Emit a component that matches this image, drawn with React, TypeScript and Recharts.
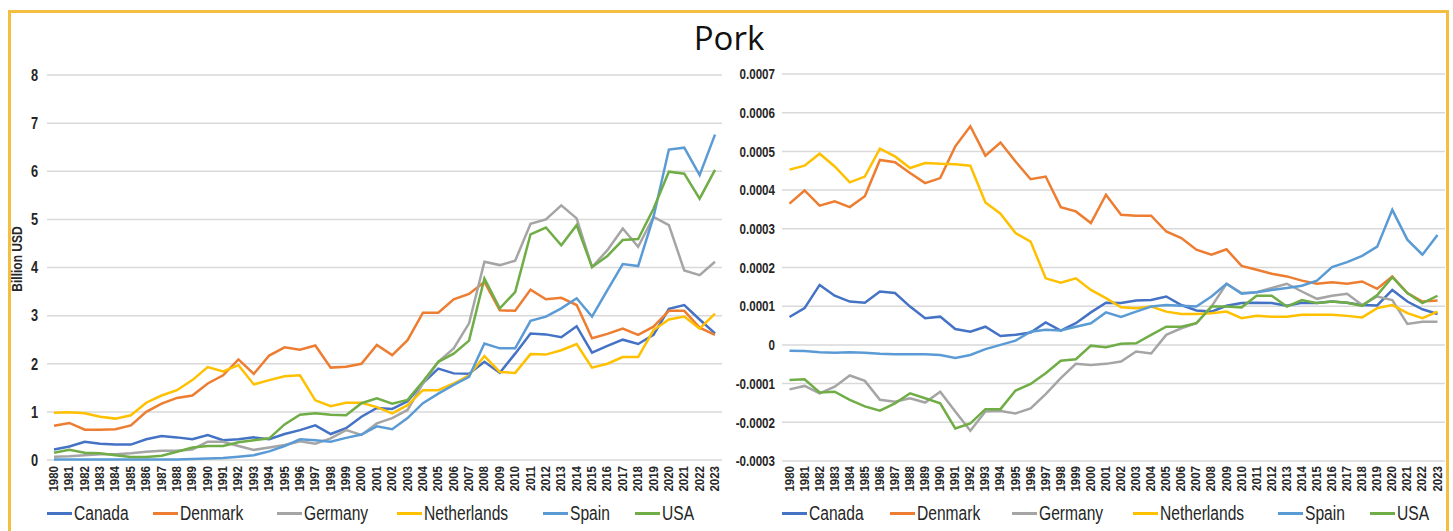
import React from 'react';
import { LineChart, Line, XAxis, YAxis, CartesianGrid } from 'recharts';

// Category labels (years)
const years = [
  '1980', '1981', '1982', '1983', '1984', '1985', '1986', '1987', '1988', '1989',
  '1990', '1991', '1992', '1993', '1994', '1995', '1996', '1997', '1998', '1999',
  '2000', '2001', '2002', '2003', '2004', '2005', '2006', '2007', '2008', '2009',
  '2010', '2011', '2012', '2013', '2014', '2015', '2016', '2017', '2018', '2019',
  '2020', '2021', '2022', '2023',
];

const countries = ['Canada', 'Denmark', 'Germany', 'Netherlands', 'Spain', 'USA'];
const countryColors = ['#4472C4', '#ED7D31', '#A5A5A5', '#FFC000', '#5B9BD5', '#70AD47'];

// Pork exports, billion USD
const canadaUsd = [
  0.22, 0.28, 0.38, 0.34, 0.32, 0.32, 0.43, 0.50, 0.47, 0.43,
  0.52, 0.41, 0.43, 0.47, 0.43, 0.54, 0.62, 0.72, 0.54, 0.66,
  0.90, 1.08, 1.06, 1.22, 1.60, 1.90, 1.80, 1.79, 2.04, 1.81,
  2.21, 2.63, 2.61, 2.55, 2.78, 2.23, 2.37, 2.50, 2.41, 2.60,
  3.14, 3.22, 2.92, 2.63,
];
const denmarkUsd = [
  0.71, 0.77, 0.63, 0.63, 0.64, 0.72, 1.00, 1.17, 1.29, 1.34,
  1.59, 1.76, 2.09, 1.79, 2.17, 2.34, 2.29, 2.38, 1.92, 1.94,
  2.00, 2.39, 2.18, 2.49, 3.06, 3.06, 3.34, 3.45, 3.70, 3.11,
  3.10, 3.54, 3.34, 3.37, 3.22, 2.53, 2.62, 2.73, 2.60, 2.77,
  3.10, 3.10, 2.75, 2.60,
];
const germanyUsd = [
  0.07, 0.08, 0.10, 0.12, 0.12, 0.14, 0.17, 0.19, 0.19, 0.22,
  0.38, 0.38, 0.29, 0.21, 0.26, 0.31, 0.39, 0.34, 0.45, 0.62,
  0.52, 0.76, 0.87, 1.04, 1.59, 2.04, 2.32, 2.84, 4.12, 4.05,
  4.14, 4.91, 5.00, 5.29, 5.02, 4.01, 4.36, 4.81, 4.43, 5.05,
  4.88, 3.94, 3.84, 4.12,
];
const netherlandsUsd = [
  0.98, 0.99, 0.97, 0.90, 0.86, 0.93, 1.19, 1.34, 1.45, 1.66,
  1.93, 1.84, 1.97, 1.57, 1.66, 1.74, 1.76, 1.24, 1.12, 1.19,
  1.19, 1.10, 0.97, 1.14, 1.45, 1.45, 1.59, 1.76, 2.16, 1.83,
  1.81, 2.20, 2.19, 2.28, 2.41, 1.92, 2.00, 2.14, 2.14, 2.70,
  2.92, 2.98, 2.73, 3.04,
];
const spainUsd = [
  0.01, 0.01, 0.01, 0.01, 0.01, 0.01, 0.01, 0.01, 0.01, 0.02,
  0.03, 0.04, 0.07, 0.10, 0.18, 0.29, 0.43, 0.41, 0.38, 0.46,
  0.53, 0.70, 0.64, 0.87, 1.18, 1.38, 1.56, 1.73, 2.42, 2.32,
  2.32, 2.89, 2.98, 3.15, 3.36, 2.98, 3.53, 4.07, 4.03, 5.05,
  6.45, 6.49, 5.92, 6.76,
];
const usaUsd = [
  0.15, 0.21, 0.15, 0.14, 0.10, 0.06, 0.06, 0.09, 0.17, 0.26,
  0.29, 0.29, 0.37, 0.41, 0.45, 0.74, 0.94, 0.97, 0.94, 0.93,
  1.18, 1.28, 1.17, 1.25, 1.63, 2.04, 2.21, 2.48, 3.77, 3.15,
  3.49, 4.69, 4.83, 4.46, 4.88, 4.01, 4.24, 4.57, 4.59, 5.22,
  5.99, 5.95, 5.43, 6.03,
];

// Second panel values
const canadaShare = [
  0.000072, 0.000095, 0.000155, 0.000127, 0.000112, 0.000109, 0.000138, 0.000134, 0.000099, 0.000069,
  0.000073, 0.000041, 0.000034, 0.000047, 0.000023, 0.000026, 0.000032, 0.000058, 0.000037, 0.000056,
  0.000084, 0.000109, 0.000108, 0.000115, 0.000116, 0.000125, 0.000103, 0.000089, 0.000086, 0.000101,
  0.000108, 0.000109, 0.000108, 0.000101, 0.000109, 0.000108, 0.000112, 0.000109, 0.000103, 0.000102,
  0.000142, 0.000112, 0.000092, 0.000080,
];
const denmarkShare = [
  0.000365, 0.000399, 0.000360, 0.000371, 0.000356, 0.000384, 0.000478, 0.000472, 0.000444, 0.000418,
  0.000431, 0.000513, 0.000565, 0.000489, 0.000523, 0.000474, 0.000428, 0.000435, 0.000356, 0.000345,
  0.000315, 0.000388, 0.000336, 0.000334, 0.000334, 0.000293, 0.000276, 0.000246, 0.000233, 0.000247,
  0.000204, 0.000194, 0.000184, 0.000177, 0.000166, 0.000158, 0.000162, 0.000158, 0.000164, 0.000145,
  0.000177, 0.000134, 0.000112, 0.000115,
];
const germanyShare = [
  -0.000115, -0.000106, -0.000125, -0.000108, -0.000079, -0.000093, -0.000142, -0.000147, -0.000138, -0.000149,
  -0.000121, -0.000172, -0.000222, -0.000172, -0.000171, -0.000177, -0.000164, -0.000127, -0.000086, -0.000049,
  -0.000052, -0.000049, -0.000043, -0.000017, -0.000022, 0.000026, 0.000043, 0.000056, 0.000099, 0.000158,
  0.000134, 0.000136, 0.000147, 0.000158, 0.000138, 0.000119, 0.000127, 0.000132, 0.000103, 0.000125,
  0.000116, 0.000054, 0.000060, 0.000060,
];
const netherlandsShare = [
  0.000453, 0.000463, 0.000494, 0.000461, 0.000420, 0.000435, 0.000507, 0.000487, 0.000457, 0.000470,
  0.000468, 0.000467, 0.000463, 0.000368, 0.000339, 0.000289, 0.000267, 0.000172, 0.000161, 0.000172,
  0.000142, 0.000121, 0.000097, 0.000095, 0.000099, 0.000086, 0.000080, 0.000080, 0.000082, 0.000086,
  0.000069, 0.000075, 0.000073, 0.000073, 0.000078, 0.000078, 0.000078, 0.000075, 0.000071, 0.000095,
  0.000103, 0.000082, 0.000069, 0.000086,
];
const spainShare = [
  -0.000015, -0.000016, -0.000019, -0.000020, -0.000019, -0.000020, -0.000023, -0.000024, -0.000024, -0.000024,
  -0.000026, -0.000034, -0.000026, -0.000011, 0.000000, 0.000011, 0.000034, 0.000039, 0.000037, 0.000047,
  0.000056, 0.000084, 0.000072, 0.000086, 0.000099, 0.000103, 0.000101, 0.000099, 0.000125, 0.000158,
  0.000132, 0.000136, 0.000142, 0.000147, 0.000153, 0.000166, 0.000201, 0.000214, 0.000230, 0.000254,
  0.000349, 0.000272, 0.000233, 0.000284,
];
const usaShare = [
  -0.000091, -0.000089, -0.000123, -0.000121, -0.000142, -0.000159, -0.000170, -0.000151, -0.000125, -0.000138,
  -0.000151, -0.000216, -0.000203, -0.000166, -0.000166, -0.000118, -0.000101, -0.000073, -0.000041, -0.000037,
  -0.000002, -0.000006, 0.000003, 0.000004, 0.000026, 0.000047, 0.000047, 0.000056, 0.000099, 0.000099,
  0.000097, 0.000127, 0.000127, 0.000099, 0.000116, 0.000108, 0.000112, 0.000109, 0.000101, 0.000129,
  0.000175, 0.000134, 0.000108, 0.000127,
];

const usdTicks = [0, 1, 2, 3, 4, 5, 6, 7, 8];
const shareTicks = [-0.0003, -0.0002, -0.0001, 0, 0.0001, 0.0002, 0.0003, 0.0004, 0.0005, 0.0006, 0.0007];

const usdRows = years.map((year, i) => {
  const row: Record<string, string | number> = { year };
  [canadaUsd, denmarkUsd, germanyUsd, netherlandsUsd, spainUsd, usaUsd].forEach((s, k) => {
    row[countries[k]] = s[i];
  });
  return row;
});

const shareRows = years.map((year, i) => {
  const row: Record<string, string | number> = { year };
  [canadaShare, denmarkShare, germanyShare, netherlandsShare, spainShare, usaShare].forEach((s, k) => {
    row[countries[k]] = s[i];
  });
  return row;
});

const SANS = '"Liberation Sans", Arial, sans-serif';
const TEXT = '#262626';
// horizontal squeeze that gives the condensed look of the labels
const SQUEEZE = 0.8;

const YearTick = (props: any) => {
  const { x, y, payload } = props;
  return (
    <text
      transform={`translate(${x + 4},${y}) rotate(-90) scale(0.92,1)`}
      textAnchor="end"
      fontFamily={SANS}
      fontWeight="bold"
      fontSize={12.5}
      fill={TEXT}
    >
      {payload.value}
    </text>
  );
};

const makeValueTick = (fontSize: number, format: (v: number) => string) => (props: any) => {
  const { x, y, payload } = props;
  return (
    <text
      transform={`translate(${x},${y}) scale(${SQUEEZE},1)`}
      textAnchor="end"
      dy="0.36em"
      fontFamily={SANS}
      fontWeight="bold"
      fontSize={fontSize}
      fill={TEXT}
    >
      {format(payload.value)}
    </text>
  );
};

const formatShare = (v: number) => (v === 0 ? '0' : v.toFixed(4));
const UsdTick = makeValueTick(16, (v) => String(v));
const ShareTick = makeValueTick(14.5, formatShare);

const legendLeftX = [47, 153, 277, 397, 543, 635];
const legendRightX = [782, 890, 1012, 1133, 1278, 1370];

function Legend({ xs }: { xs: number[] }) {
  return (
    <>
      {countries.map((name, k) => (
        <div
          key={name}
          style={{
            position: 'absolute',
            left: xs[k],
            top: 502,
            height: 22,
            display: 'flex',
            alignItems: 'center',
            whiteSpace: 'nowrap',
          }}
        >
          <span style={{ display: 'inline-block', width: 25, height: 3, background: countryColors[k], marginRight: 2 }} />
          <span
            style={{
              display: 'inline-block',
              fontFamily: SANS,
              fontSize: 19.5,
              color: TEXT,
              transform: `scaleX(${SQUEEZE})`,
              transformOrigin: 'left center',
            }}
          >
            {name}
          </span>
        </div>
      ))}
    </>
  );
}

export default function App() {
  return (
    <div
      style={{
        position: 'absolute',
        left: 0,
        top: 0,
        width: 1453,
        height: 531,
        overflow: 'hidden',
        background: '#ffffff',
      }}
    >
      <div
        style={{
          position: 'absolute',
          left: 8,
          top: 10,
          width: 1441,
          height: 560,
          border: '3px solid #F4BE41',
          boxSizing: 'border-box',
        }}
      />
      <div
        style={{
          position: 'absolute',
          left: 629,
          top: 21,
          width: 200,
          textAlign: 'center',
          fontFamily: '"Open Sans", "Noto Sans", sans-serif',
          fontSize: 33,
          lineHeight: 1,
          color: '#111111',
        }}
      >
        Pork
      </div>
      <div
        style={{
          position: 'absolute',
          left: 16,
          top: 259,
          transform: `translate(-50%, -50%) rotate(-90deg) scaleX(${SQUEEZE})`,
          fontFamily: SANS,
          fontWeight: 'bold',
          fontSize: 15,
          color: TEXT,
          whiteSpace: 'nowrap',
        }}
      >
        Billion USD
      </div>

      <div style={{ position: 'absolute', left: 0, top: 0 }}>
        <LineChart width={730} height={531} data={usdRows} margin={{ top: 75, right: 8, left: 0, bottom: 31 }}>
          <CartesianGrid vertical={false} stroke="#D9D9D9" strokeWidth={1.5} />
          <XAxis
            dataKey="year"
            interval={0}
            height={40}
            axisLine={false}
            tickLine={false}
            tickSize={0}
            tickMargin={6}
            padding={{ left: 7, right: 7 }}
            tick={<YearTick />}
          />
          <YAxis
            width={47}
            domain={[0, 8]}
            ticks={usdTicks}
            axisLine={false}
            tickLine={false}
            tickSize={0}
            tickMargin={9}
            tick={<UsdTick />}
          />
          {countries.map((name, k) => (
            <Line
              key={name}
              type="linear"
              dataKey={name}
              stroke={countryColors[k]}
              strokeWidth={2.5}
              dot={false}
              isAnimationActive={false}
            />
          ))}
        </LineChart>
      </div>

      <div style={{ position: 'absolute', left: 730, top: 0 }}>
        <LineChart width={723} height={531} data={shareRows} margin={{ top: 74, right: 8, left: 0, bottom: 30 }}>
          <CartesianGrid vertical={false} stroke="#D9D9D9" strokeWidth={1.5} />
          <XAxis
            dataKey="year"
            interval={0}
            height={40}
            axisLine={false}
            tickLine={false}
            tickSize={0}
            tickMargin={5}
            padding={{ left: 7.5, right: 7.5 }}
            tick={<YearTick />}
          />
          <YAxis
            width={52}
            domain={[-0.0003, 0.0007]}
            ticks={shareTicks}
            axisLine={false}
            tickLine={false}
            tickSize={0}
            tickMargin={7}
            tick={<ShareTick />}
          />
          {countries.map((name, k) => (
            <Line
              key={name}
              type="linear"
              dataKey={name}
              stroke={countryColors[k]}
              strokeWidth={2.5}
              dot={false}
              isAnimationActive={false}
            />
          ))}
        </LineChart>
      </div>

      <Legend xs={legendLeftX} />
      <Legend xs={legendRightX} />
    </div>
  );
}
